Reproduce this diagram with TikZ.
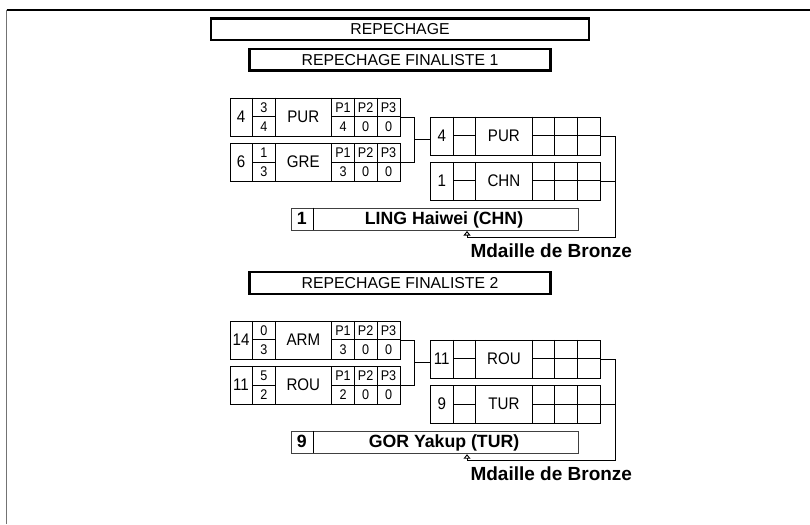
\documentclass[tikz,border=0pt]{standalone}
\usepackage{fontspec}
\setmainfont{Liberation Sans}
\newfontfamily\narrowfont[FakeStretch=0.9]{Liberation Sans}
\usetikzlibrary{arrows.meta,calc}
\tikzset{
  hdr/.style={draw=black, line width=2.2pt, inner sep=0pt, font=\fontsize{15.8}{18}\selectfont},
  rowbox/.style={draw=black, line width=0.9pt, inner sep=0pt, minimum height=37.8pt},
  cell/.style={draw=black, line width=0.9pt},
  big/.style={inner sep=0pt, font=\narrowfont\fontsize{16.8}{18}\selectfont},
  small/.style={inner sep=0pt, font=\narrowfont\fontsize{14}{15}\selectfont},
  namebox/.style={draw=black!75, line width=1pt, inner sep=0pt, minimum width=287pt, minimum height=22.3pt},
  namefont/.style={inner sep=0pt, font=\bfseries\fontsize{17.7}{20}\selectfont},
  medal/.style={inner sep=0pt, font=\bfseries\fontsize{19}{22}\selectfont},
  conn/.style={draw=black, line width=0.9pt},
  tip/.style={-{Triangle[open,length=4.5pt,width=7pt,line width=0.9pt]}}
}
\newcommand\leftrow[9]{%
  \node[rowbox, minimum width=170.5pt, anchor=north west] (#1) at (229.5,#2) {};
  \foreach \xx in {252.5,275,331.7,354.3,377} \draw[cell] (\xx,#2) -- (\xx,#2+37.8);
  \draw[cell] (252.5,#2+18.9) -- (275,#2+18.9) (331.7,#2+18.9) -- (400,#2+18.9);
  \node[big] (#1-seed) at (241,#2+18.9) {#3};
  \node[small] (#1-st) at (263.75,#2+9.6) {#4};
  \node[small] (#1-sb) at (263.75,#2+28.5) {#5};
  \node[big] (#1-c) at (303.35,#2+18.9) {#6};
  \node[small] (#1-h1) at (343,#2+9.6) {P1};
  \node[small] (#1-h2) at (365.65,#2+9.6) {P2};
  \node[small] (#1-h3) at (388.5,#2+9.6) {P3};
  \node[small] (#1-s1) at (343,#2+28.5) {#7};
  \node[small] (#1-s2) at (365.65,#2+28.5) {#8};
  \node[small] (#1-s3) at (388.5,#2+28.5) {#9};
}
\newcommand\rightrow[4]{%
  \node[rowbox, minimum width=169.9pt, anchor=north west] (#1) at (430.3,#2) {};
  \foreach \xx in {453,475.2,532.5,554.8,577.5} \draw[cell] (\xx,#2) -- (\xx,#2+37.8);
  \draw[cell] (453,#2+18.9) -- (475.2,#2+18.9) (532.5,#2+18.9) -- (600.2,#2+18.9);
  \node[big] (#1-seed) at (441.7,#2+18.9) {#3};
  \node[big] (#1-c) at (503.9,#2+18.9) {#4};
}
\newcommand\namerow[4]{%
  \node[namebox, anchor=north west] (#1) at (290.5,#2) {};
  \draw[draw=black, line width=1pt] (313,#2) -- (313,#2+22.3);
  \node[namefont, anchor=base] (#1-n) at (301.7,#2+16.6) {#3};
  \node[namefont, anchor=base] (#1-t) at (444,#2+16.6) {#4};
}
\begin{document}
\begin{tikzpicture}[x=1pt,y=-1pt]
\useasboundingbox (0,0) rectangle (810,524);
% frame
\coordinate (f0) at (6.5,10);
\coordinate (f1) at (810,10);
\coordinate (f2) at (6.5,524);
\draw[black, line width=1.3pt] (f0) -- (f1);
\draw[black!55, line width=1.8pt] (f0) -- (f2);
% headers
\node[hdr, minimum width=377.6pt, minimum height=21.3pt] (rep) at (400,29.2) {REPECHAGE};
\node[hdr, minimum width=301pt, minimum height=21.8pt] (fin1) at (400,59.7) {REPECHAGE FINALISTE 1};
\node[hdr, minimum width=301pt, minimum height=21.8pt] (fin2) at (400,282.9) {REPECHAGE FINALISTE 2};
% block 1
\leftrow{a1}{97.7}{4}{3}{4}{PUR}{4}{0}{0}
\leftrow{a2}{143.1}{6}{1}{3}{GRE}{3}{0}{0}
\rightrow{r1}{116.7}{4}{PUR}
\rightrow{r2}{161.9}{1}{CHN}
\namerow{nb1}{207.7}{1}{LING Haiwei (CHN)}
\coordinate (j1) at (414.8,139.3);
\draw[conn] (a1.east) -| (j1) |- (a2.east);
\draw[conn] (j1) -- (j1 -| r1.west);
\coordinate (k1) at (615.5,237);
\coordinate (q1) at (467,237);
\draw[conn] (r1.east) -| (k1) -- (q1);
\draw[conn] (r2.east) -- (r2.east -| k1);
\draw[conn, tip] (q1) -- (q1 |- nb1.south);
\node[medal, anchor=base] (m1) at (551.3,257) {Mdaille de Bronze};
% block 2
\leftrow{b1}{320.9}{14}{0}{3}{ARM}{3}{0}{0}
\leftrow{b2}{366.3}{11}{5}{2}{ROU}{2}{0}{0}
\rightrow{s1}{339.9}{11}{ROU}
\rightrow{s2}{385.1}{9}{TUR}
\namerow{nb2}{430.9}{9}{GOR Yakup (TUR)}
\coordinate (j2) at (414.8,362.5);
\draw[conn] (b1.east) -| (j2) |- (b2.east);
\draw[conn] (j2) -- (j2 -| s1.west);
\coordinate (k2) at (615.5,460.2);
\coordinate (q2) at (467,460.2);
\draw[conn] (s1.east) -| (k2) -- (q2);
\draw[conn] (s2.east) -- (s2.east -| k2);
\draw[conn, tip] (q2) -- (q2 |- nb2.south);
\node[medal, anchor=base] (m2) at (551.3,480.2) {Mdaille de Bronze};
\end{tikzpicture}
\end{document}
